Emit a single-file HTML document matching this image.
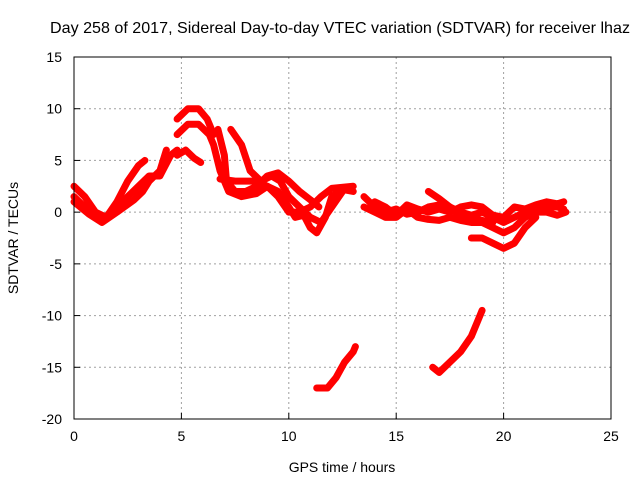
<!DOCTYPE html>
<html><head><meta charset="utf-8"><style>
body{margin:0;background:#fff;}
svg text{font-family:"Liberation Sans",sans-serif;fill:#000;}
</style></head><body>
<svg id="chart" width="640" height="480" viewBox="0 0 640 480" xmlns="http://www.w3.org/2000/svg">
<rect width="640" height="480" fill="#fff"/>
<text x="340" y="33" font-size="16" text-anchor="middle" textLength="580" lengthAdjust="spacingAndGlyphs">Day 258 of 2017, Sidereal Day-to-day VTEC variation (SDTVAR) for receiver lhaz</text>
<g id="grid"></g>
<g id="series"></g>
<rect x="74" y="57" width="537" height="362" fill="none" stroke="#000" stroke-width="1"/>
<g id="ticks"></g>
<text x="342" y="472" font-size="14" text-anchor="middle">GPS time / hours</text>
<text x="18" y="238" font-size="14" text-anchor="middle" transform="rotate(-90 18 238)">SDTVAR / TECUs</text>
</svg>
<script>
const xTicks=[0,5,10,15,20,25];
const yTicks=[15,10,5,0,-5,-10,-15,-20];
const trackA=[[0,2.5],[0.5,1.5],[1,0],[1.5,-0.5],[2,1],[2.5,3],[3,4.5],[3.3,5]];
const trackB=[[0,1.5],[0.5,0.5],[1,-0.5],[1.5,-0.5],[2,0.5],[2.5,1.5],[3,2.5],[3.5,3.5],[4,3.5],[4.5,5.5],[4.8,6]];
const trackC=[[0,1],[0.7,-0.2],[1.3,-1],[2,0],[2.8,1.2],[3.2,2],[3.5,3],[4,4],[4.3,6]];
const trackD=[[4.8,9],[5.3,10],[5.8,10],[6.2,9],[6.5,7.5]];
const trackE=[[4.8,7.5],[5.3,8.5],[5.8,8.5],[6.3,7.5],[6.5,6.5],[6.8,4],[7.2,2],[7.8,1.5],[8.5,1.8],[9,2.5],[9.5,2],[10,0.5],[10.3,-0.5],[10.7,-0.3],[11,-1.5],[11.3,-2],[11.7,-0.5],[12,1.5],[12.5,2.2],[13,2]];
const trackF=[[4.8,5.5],[5.2,6],[5.6,5.2],[5.9,4.8]];
const trackG=[[6.7,8],[7,5.5],[7.1,3],[7.5,2],[8,2],[8.5,2.5],[9,3.5],[9.5,3.8],[10,3],[10.5,2],[11,1.2],[11.4,0.5]];
const trackH=[[7.3,8],[7.8,6.5],[8.2,4],[8.7,3],[9.2,3.5],[9.6,3],[10,1.5],[10.5,0.5],[11,-0.5],[11.5,-1],[12,0.5],[12.5,2]];
const trackI=[[6.8,3.2],[7.5,3],[8.5,3],[9,2.5],[9.5,1.5],[10,0],[10.5,0],[11,0.5],[11.5,1.5],[12,2.3],[13,2.5]];
const trackLow1=[[11.3,-17],[11.8,-17],[12.2,-16],[12.6,-14.5],[13,-13.5],[13.1,-13]];
const trackLow2=[[16.7,-15],[17,-15.5],[17.5,-14.5],[18,-13.5],[18.5,-12],[18.9,-10],[19,-9.5]];
const trackJ=[[13.5,1.5],[14,0.5],[14.5,0],[15,0.3],[15.5,-0.2],[16,0],[16.5,0.5],[17,0.7],[17.5,0.5],[18,0],[18.5,-0.3],[19,0],[19.5,-0.5],[20,-1],[20.5,-0.5],[21,0],[21.5,0],[22,0.5],[22.5,0.5],[22.8,0.3]];
const trackK=[[13.5,0.5],[14,0],[14.5,-0.5],[15,-0.5],[15.5,0.3],[16,-0.5],[16.5,-0.7],[17,-0.8],[17.5,-0.5],[18,-0.8],[18.5,-1],[19,-1],[19.5,-1.5],[20,-2],[20.5,-1.5],[21,-0.5],[21.5,0],[22,0],[22.5,-0.3],[22.9,0]];
const trackL=[[14,1],[14.5,0.5],[15,-0.3],[15.5,0.7],[16,0.3],[16.5,0],[17,0.3],[17.5,0],[18,0.5],[18.5,0.7],[19,0.5],[19.5,-0.3],[20,-0.5],[20.5,0.5],[21,0.3],[21.5,0.7],[22,1],[22.5,0.8],[22.8,1]];
const trackM=[[16.5,2],[17,1.3],[17.5,0.5],[18,-0.5],[18.5,-0.5],[19,-0.8],[19.5,-1]];
const trackN=[[18.5,-2.5],[19,-2.5],[19.5,-3],[20,-3.5],[20.5,-3],[21,-1.5],[21.5,-0.5]];
const tracks=[trackA,trackB,trackC,trackD,trackE,trackF,trackG,trackH,trackI,trackLow1,trackLow2,trackJ,trackK,trackL,trackM,trackN];

const X0=74,X1=611,Y0=419,Y1=57,xMin=0,xMax=25,yMin=-20,yMax=15;
const xs=v=>X0+(v-xMin)/(xMax-xMin)*(X1-X0);
const ys=v=>Y0-(v-yMin)/(yMax-yMin)*(Y0-Y1);
const NS='http://www.w3.org/2000/svg';
const grid=document.getElementById('grid'),ticks=document.getElementById('ticks'),ser=document.getElementById('series');
function mk(tag,attrs,parent){const e=document.createElementNS(NS,tag);for(const k in attrs)e.setAttribute(k,attrs[k]);parent.appendChild(e);return e;}
xTicks.forEach(t=>{
  const x=xs(t);
  if(t>xMin&&t<xMax){const g=mk('line',{x1:x,x2:x,y1:Y1,y2:Y0,stroke:'#a0a0a0','stroke-dasharray':'2,3'},grid);
  
  }
  const l=mk('line',{x1:x,x2:x,y1:Y0,y2:Y0-6,stroke:'#000'},ticks);
  
  
  const tx=mk('text',{x:x,y:Y0+22,'font-size':'14','text-anchor':'middle'},ticks);tx.textContent=t;
  
  
});
yTicks.forEach(t=>{
  const y=ys(t);
  if(t>yMin&&t<yMax){const g=mk('line',{x1:X0,x2:X1,y1:y,y2:y,stroke:'#a0a0a0','stroke-dasharray':'2,3'},grid);
  
  }
  const l=mk('line',{x1:X0,x2:X0+6,y1:y,y2:y,stroke:'#000'},ticks);
  
  
  const tx=mk('text',{x:X0-12,y:y+5,'font-size':'14','text-anchor':'end'},ticks);tx.textContent=t;
  
  
});
tracks.forEach((tr,i)=>{
  const p=mk('polyline',{points:tr.map(d=>xs(d[0])+','+ys(d[1])).join(' '),fill:'none',stroke:'#ff0000','stroke-width':'7','stroke-linejoin':'round','stroke-linecap':'round'},ser);
  
  
});
</script>
</body></html>
